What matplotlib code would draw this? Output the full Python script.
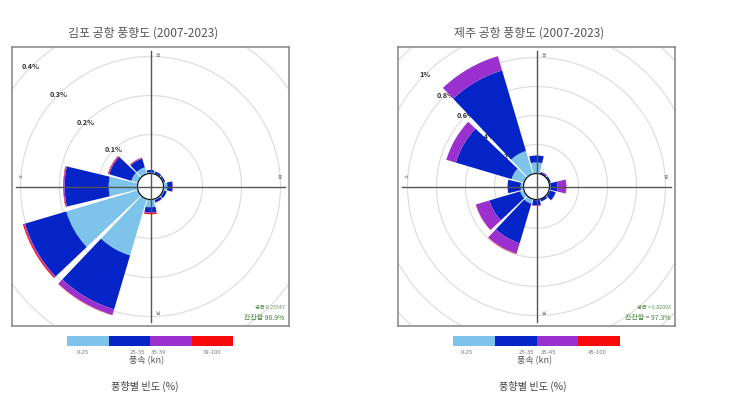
import numpy as np
import matplotlib
matplotlib.use('Agg')
import matplotlib.pyplot as plt
from matplotlib.colors import ListedColormap, BoundaryNorm
from matplotlib.cm import ScalarMappable

plt.rcParams['font.family'] = ['Noto Sans CJK KR', 'DejaVu Sans']

W, H = 730, 404

directions = [0, 30, 60, 90, 120, 150, 180, 210, 240, 270, 300, 330]
speed_colors = ['#7ec3ea', '#0424c8', '#9a31cf', '#f80a0a']

# 김포 - frequency (%) per speed bin
gimpo_0_25 = [0.003, 0.002, 0.002, 0.010, 0.003, 0.003, 0.020, 0.151, 0.192, 0.074, 0.018, 0.018]
gimpo_25_35 = [0.006, 0.005, 0.004, 0.013, 0.007, 0.006, 0.013, 0.144, 0.110, 0.113, 0.059, 0.023]
gimpo_35_39 = [0.000, 0.000, 0.000, 0.001, 0.000, 0.000, 0.002, 0.015, 0.003, 0.003, 0.002, 0.002]
gimpo_39_100 = [0.000, 0.000, 0.000, 0.000, 0.000, 0.001, 0.003, 0.001, 0.003, 0.001, 0.002, 0.001]
gimpo_rings = [0.1, 0.2, 0.3, 0.4]
gimpo_ring_labels = ['0.1%', '0.2%', '0.3%', '0.4%']
gimpo_speed_labels = ['0-25', '25-35', '35-39', '39-100']

# 제주
jeju_0_25 = [0.076, 0.003, 0.003, 0.007, 0.007, 0.003, 0.005, 0.034, 0.028, 0.020, 0.090, 0.166]
jeju_25_35 = [0.048, 0.008, 0.010, 0.048, 0.040, 0.015, 0.035, 0.283, 0.221, 0.090, 0.400, 0.579]
jeju_35_45 = [0.000, 0.006, 0.000, 0.062, 0.003, 0.000, 0.003, 0.076, 0.097, 0.000, 0.069, 0.103]
jeju_45_100 = [0.000, 0.000, 0.000, 0.000, 0.000, 0.000, 0.002, 0.003, 0.002, 0.000, 0.000, 0.000]
jeju_rings = [0.2, 0.4, 0.6, 0.8, 1.0, 1.2]
jeju_ring_labels = ['0.2%', '0.4%', '0.6%', '0.8%', '1%']
jeju_speed_labels = ['0-25', '25-35', '35-45', '45-100']


def fx(x):
    return x / W


def fy(y):
    return 1 - y / H


def draw_rose(fig, box_px, bins, rings, ring_labels, px_per_pct, hole_px, rmax,
              title, stats):
    x0, y0, x1, y1 = box_px
    cx, cy = (x0 + x1) / 2, (y0 + y1) / 2
    R = rmax * px_per_pct + hole_px
    hole = hole_px / px_per_pct

    pax = fig.add_axes([fx(cx - R), fy(cy + R), 2 * R / W, 2 * R / H], projection='polar')
    pax.set_theta_zero_location('N')
    pax.set_theta_direction(-1)
    pax.set_rorigin(-hole)
    pax.set_ylim(0, rmax)
    pax.set_xticks([])
    pax.set_yticks([])
    pax.grid(False)
    pax.patch.set_visible(False)
    for s in pax.spines.values():
        s.set_visible(False)

    # rings
    th = np.linspace(0, 2 * np.pi, 400)
    for r in rings:
        pax.plot(th, np.full_like(th, r), color='#dedede', lw=0.9, zorder=0.5)
    for r, lab in zip(rings, ring_labels):
        pax.text(np.deg2rad(315), r, lab, ha='center', va='center',
                 fontsize=5.2, color='#333333', fontweight='bold', zorder=1)

    theta = np.deg2rad(directions)
    width = np.deg2rad(27)
    bottom = np.zeros(len(directions))
    for vals, c in zip(bins, speed_colors):
        pax.bar(theta, vals, width=width, bottom=bottom, color=c, linewidth=0, zorder=2)
        bottom = bottom + np.array(vals)

    box = fig.add_axes([fx(x0), fy(y1), (x1 - x0) / W, (y1 - y0) / H])
    box.set_facecolor('none')
    box.set_xlim(0, 1)
    box.set_ylim(0, 1)
    box.set_xticks([])
    box.set_yticks([])
    for s in box.spines.values():
        s.set_color('#8c8c8c')
        s.set_linewidth(1.2)

    for a in pax.patches + pax.lines:
        a.set_clip_path(box.patch)

    box.plot([0.5, 0.5], [0.015, 0.984], color='#555555', lw=1)
    box.plot([0.015, 0.985], [0.5, 0.5], color='#555555', lw=1)

    kw = dict(fontsize=3.5, color='#777777', ha='center', va='center')
    box.text(0.527, 0.968, '북', **kw)
    box.text(0.527, 0.045, '남', **kw)
    box.text(0.029, 0.532, '서', **kw)
    box.text(0.968, 0.532, '동', **kw)

    box.text(0.985, 0.065, stats[0], ha='right', va='center', fontsize=3.8, color='#5b8a4d')
    box.text(0.985, 0.027, stats[1], ha='right', va='center', fontsize=5, color='#3f7f33')

    fig.text(fx(cx - 7), fy(33), title, ha='center', va='center', fontsize=8.6, color='#555555')


def draw_legend(fig, x0, x1, labels, label_pos, cx):
    cax = fig.add_axes([fx(x0), fy(346), (x1 - x0) / W, 10 / H])
    cmap = ListedColormap(speed_colors)
    norm = BoundaryNorm([0, 1, 2, 3, 4], 4)
    cb = fig.colorbar(ScalarMappable(norm=norm, cmap=cmap), cax=cax, orientation='horizontal')
    cb.outline.set_visible(False)
    cb.ax.minorticks_off()
    cb.set_ticks(label_pos, labels=labels)
    cb.ax.tick_params(which='both', length=0, pad=3, labelsize=4.3, labelcolor='#777777')
    fig.text(fx(cx), fy(361), '풍속 (kn)', ha='center', va='center', fontsize=6.5, color='#555555')
    fig.text(fx(cx - 2), fy(386), '풍향별 빈도 (%)', ha='center', va='center', fontsize=7.3, color='#444444')


fig = plt.figure(figsize=(W / 100, H / 100), dpi=100)

draw_rose(fig, (12, 47, 289, 326),
          [gimpo_0_25, gimpo_25_35, gimpo_35_39, gimpo_39_100],
          gimpo_rings, gimpo_ring_labels, 390, 13, 0.45,
          '김포 공항 풍향도 (2007-2023)', ['평균 0.25547', '잔잔함 98.9%'])
draw_rose(fig, (398, 47, 675, 326),
          [jeju_0_25, jeju_25_35, jeju_35_45, jeju_45_100],
          jeju_rings, jeju_ring_labels, 145, 13, 1.3,
          '제주 공항 풍향도 (2007-2023)', ['평균 = 0.82093', '잔잔함 = 97.3%'])

draw_legend(fig, 67, 233, gimpo_speed_labels, [0.39, 1.69, 2.2, 3.49], 147)
draw_legend(fig, 453, 620, jeju_speed_labels, [0.34, 1.77, 2.3, 3.45], 535)

fig.savefig('out.png', dpi=100, facecolor='white')
